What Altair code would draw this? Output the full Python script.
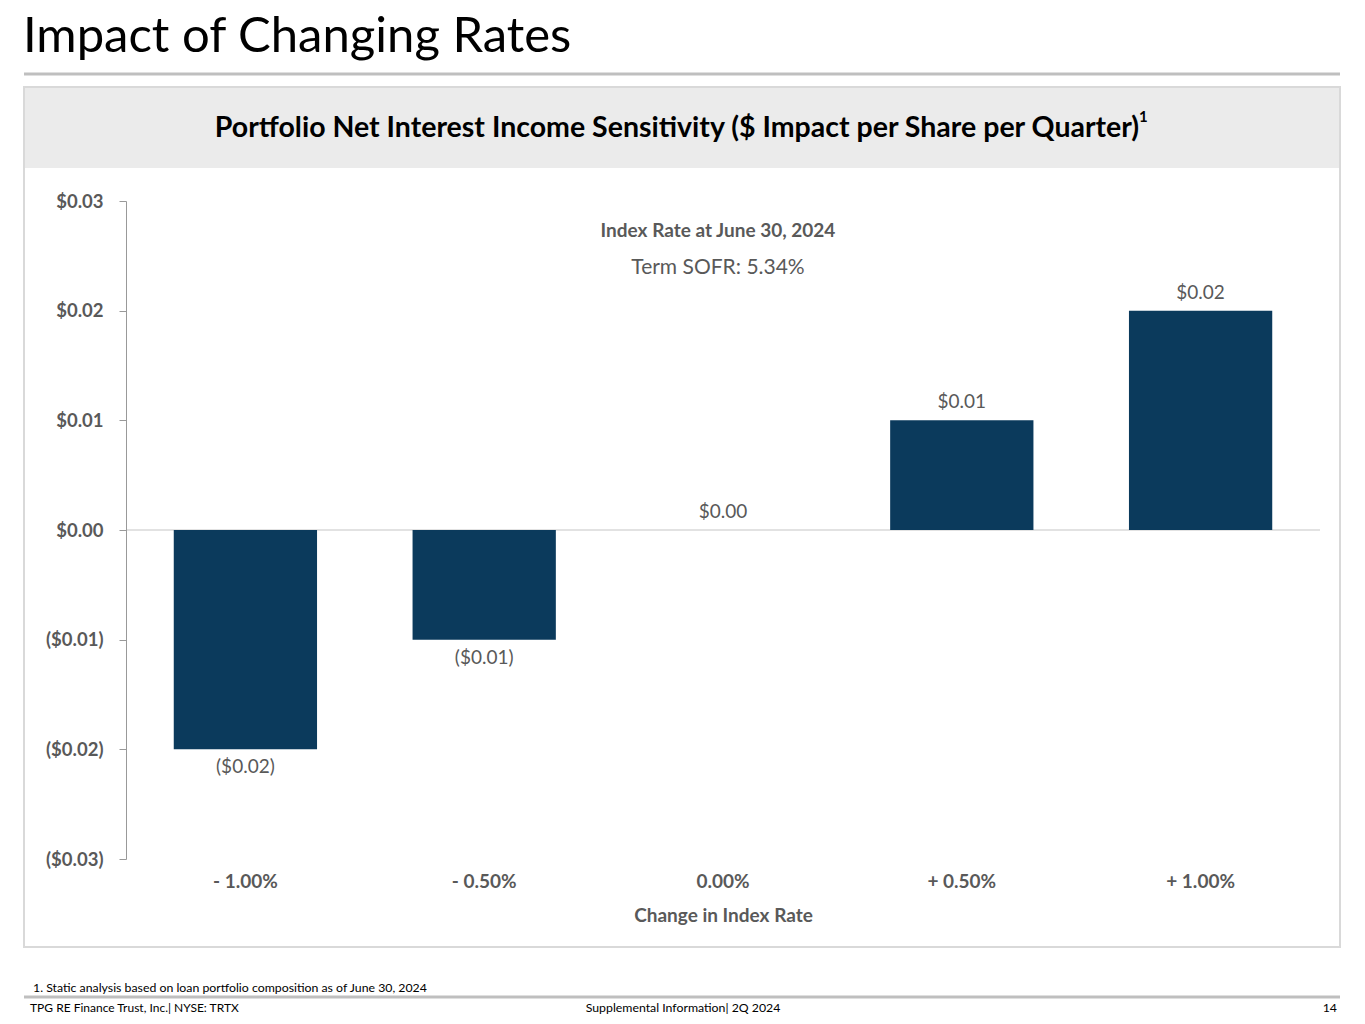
import altair as alt
import pandas as pd

# ---- data ----
categories = ["- 1.00%", "- 0.50%", "0.00%", "+ 0.50%", "+ 1.00%"]
impact = [-0.02, -0.01, 0.00, 0.01, 0.02]
value_labels = ["($0.02)", "($0.01)", "$0.00", "$0.01", "$0.02"]
y_tick_values = [-0.03, -0.02, -0.01, 0.00, 0.01, 0.02, 0.03]

page_title = "Impact of Changing Rates"
panel_title = "Portfolio Net Interest Income Sensitivity ($ Impact per Share per Quarter)"
note_title = "Index Rate at June 30, 2024"
note_text = "Term SOFR: 5.34%"
x_title = "Change in Index Rate"
footnote = "1. Static analysis based on loan portfolio composition as of June 30, 2024"
footer_left = "TPG RE Finance Trust, Inc.| NYSE: TRTX"
footer_mid = "Supplemental Information| 2Q 2024"
footer_right = "14"

df = pd.DataFrame({"change": categories, "impact": impact, "label": value_labels})
zero_df = pd.DataFrame({"impact": [0.0]})
one = pd.DataFrame({"k": [0]})

# ---- layout ----
W, H = 1194, 658
OX, OY = 126, 201          # page position of plot origin
PAD_L, PAD_T = OX - 8, OY - 8
PAD_R = 1349 - PAD_L - W
PAD_B = 1008 - PAD_T - H

def px(X):
    return X - OX

def py(Y):
    return Y - OY

FONT = "Lato"
GRAY = "#595959"
NAVY = "#0b3a5c"

xscale = alt.Scale(domain=categories, paddingInner=0.4, paddingOuter=0.2)
yscale = alt.Scale(domain=[-0.03, 0.03], nice=False, zero=False)

X = alt.X("change:N", scale=xscale, sort=categories, title=x_title,
          axis=alt.Axis(labelAngle=0, domain=False, ticks=False, labelPadding=13,
                        labelFontSize=19, labelFontWeight="bold", labelColor=GRAY,
                        titleFontSize=19, titleFontWeight="bold", titleColor=GRAY,
                        titlePadding=15, labelFont=FONT, titleFont=FONT, zindex=2))
Y = alt.Y("impact:Q", scale=yscale, title=None,
          axis=alt.Axis(values=y_tick_values, grid=False, tickSize=7, tickColor="#999999",
                        domainColor="#999999", labelPadding=16, labelFontSize=18.5,
                        labelFontWeight="bold", labelColor=GRAY, labelFont=FONT, zindex=2,
                        labelExpr="datum.value < -0.0001 ? '($' + format(-datum.value, '.2f') + ')' : '$' + format(abs(datum.value), '.2f')"))

# ---- decorations ----
box = alt.Chart(one).mark_rect(fill="white", stroke="#d9d9d9", strokeWidth=2).encode(
    x=alt.value(px(24)), x2=alt.value(px(1340)), y=alt.value(py(87)), y2=alt.value(py(947)))
header = alt.Chart(one).mark_rect(fill="#ebebeb").encode(
    x=alt.value(px(25)), x2=alt.value(px(1339)), y=alt.value(py(88)), y2=alt.value(py(168)))
title_line = alt.Chart(one).mark_rule(color="#bfbfbf", strokeWidth=3).encode(
    x=alt.value(px(24)), x2=alt.value(px(1340)), y=alt.value(py(74)))
footer_line = alt.Chart(one).mark_rule(color="#bfbfbf", strokeWidth=3).encode(
    x=alt.value(px(24)), x2=alt.value(px(1340)), y=alt.value(py(997)))

def txt(s, X0, Y0, size, weight="normal", color="black", align="left", baseline="middle"):
    return alt.Chart(one).mark_text(font=FONT, fontSize=size, fontWeight=weight, color=color,
                                    align=align, baseline=baseline).encode(
        x=alt.value(px(X0)), y=alt.value(py(Y0)), text=alt.value(s))

texts = [
    txt(page_title, 23, 37, 49),
    txt(panel_title, 677, 128, 28.5, weight="bold", align="center"),
    txt("1", 1139, 117, 15, weight="bold"),
    txt(note_title, 718, 231, 19, weight="bold", color=GRAY, align="center"),
    txt(note_text, 718, 268, 21, color=GRAY, align="center"),
    txt(footnote, 33, 988, 12.3),
    txt(footer_left, 30, 1008, 12),
    txt(footer_mid, 683, 1008, 12.3, align="center"),
    txt(footer_right, 1337, 1008, 12.3, align="right"),
]

# ---- data layers ----
zero_line = alt.Chart(zero_df).mark_rule(color="#d9d9d9", strokeWidth=1.5).encode(
    y=Y, x=alt.value(0), x2=alt.value(W))
bars = alt.Chart(df).mark_bar(color=NAVY).encode(x=X, y=Y)
lab_pos = alt.Chart(df).transform_filter("datum.impact >= 0").mark_text(
    font=FONT, fontSize=19, color=GRAY, baseline="bottom", dy=-8).encode(x=X, y=Y, text="label:N")
lab_neg = alt.Chart(df).transform_filter("datum.impact < 0").mark_text(
    font=FONT, fontSize=19, color=GRAY, baseline="top", dy=9).encode(x=X, y=Y, text="label:N")

chart = alt.layer(box, header, title_line, footer_line, zero_line, bars, lab_pos, lab_neg, *texts).properties(
    width=W, height=H,
    padding={"left": PAD_L, "top": PAD_T, "right": PAD_R, "bottom": PAD_B},
    autosize=alt.AutoSizeParams(type="none"),
    background="white",
).configure_view(strokeWidth=0)

chart.save("out.html", embed_options={"renderer": "svg", "actions": False})
